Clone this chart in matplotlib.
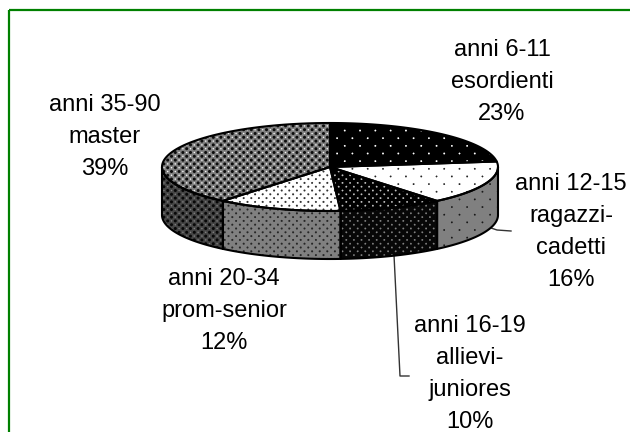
import numpy as np
import matplotlib
matplotlib.use('Agg')
import matplotlib.pyplot as plt
from matplotlib.patches import Polygon

plt.rcParams['font.family'] = ['Liberation Sans', 'DejaVu Sans']

# values, clockwise from 12 o'clock
labels = ['anni 6-11\nesordienti\n23%', 'anni 12-15\nragazzi-\ncadetti\n16%',
          'anni 16-19\nallievi-\njuniores\n10%', 'anni 20-34\nprom-senior\n12%',
          'anni 35-90\nmaster\n39%']
shares = [23, 16, 10, 12, 39]
label_x = [502, 571, 470, 224, 105]
label_y = [82, 232, 374, 311, 137]

W, H = 630, 432
cx, cy, a, b, depth = 330, 167, 168, 44, 48

fig = plt.figure(figsize=(6.3, 4.32), dpi=100)
ax = fig.add_axes([0, 0, 1, 1])
ax.set_xlim(0, W)
ax.set_ylim(H, 0)
ax.axis('off')


def dots(bg, fg, step, r, fg2=None, r2=0.5):
    # staggered dot pattern, one value per pixel
    yy, xx = np.mgrid[0:H, 0:W]
    img = np.full((H, W), bg, dtype=float)
    row = step / 2

    def paint(x0, y0, col, rad):
        ry = np.round((yy - y0) / row)
        rx = np.round((xx - x0 - (ry % 2) * step / 2) / step)
        d = np.hypot(xx - x0 - (ry % 2) * step / 2 - rx * step, yy - y0 - ry * row)
        # soft edge, like the resampled original
        w = np.clip((rad + 0.5 - d), 0, 1)
        img[:] = img * (1 - w) + col * w

    paint(0, 0, fg, r)
    if fg2 is not None:
        paint(step / 2, 0, fg2, r2)
    return img


top_tex = [dots(0.0, 1.0, 15.3, 0.9),
           dots(1.0, 0.15, 15.3, 0.9),
           dots(0.0, 0.75, 7.6, 0.9),
           dots(1.0, 0.2, 7.6, 1.0),
           dots(0.5, 0.05, 7.6, 1.5, 0.95, 0.7)]
side_tex = [dots(0.5, 0.1, 15.3, 0.9),
            dots(0.5, 0.1, 15.3, 0.9),
            dots(0.03, 0.5, 7.6, 0.9),
            dots(0.5, 0.15, 7.6, 1.0),
            dots(0.27, 0.03, 7.6, 1.5, 0.5, 0.7)]


def textured(verts, img):
    im = ax.imshow(img, cmap='gray', vmin=0, vmax=1, extent=(0, W, H, 0),
                   interpolation='nearest', aspect='auto', zorder=2)
    poly = Polygon(verts, closed=True, fc='none', ec='black', lw=1.5, zorder=3,
                   joinstyle='round')
    ax.add_patch(poly)
    im.set_clip_path(poly)


def rim(t):
    return cx + a * np.sin(t), cy - b * np.cos(t)


edges = np.radians(np.cumsum([0] + shares) * 3.6)

# side walls first, only the front half of the disc shows
for i in range(len(shares)):
    t0 = max(edges[i], np.pi / 2)
    t1 = min(edges[i + 1], 3 * np.pi / 2)
    if t1 <= t0:
        continue
    t = np.linspace(t0, t1, 80)
    x, y = rim(t)
    verts = np.r_[np.c_[x, y], np.c_[x, y + depth][::-1]]
    textured(verts, side_tex[i])

# top slices
for i in range(len(shares)):
    t = np.linspace(edges[i], edges[i + 1], 120)
    x, y = rim(t)
    verts = np.r_[[[cx, cy]], np.c_[x, y]]
    textured(verts, top_tex[i])

# leader lines
ax.plot([488, 497, 511], [227, 230, 231], color='#333333', lw=1, zorder=1)
ax.plot([394, 400, 409], [255, 376, 376], color='#333333', lw=1, zorder=1)

for txt, x, y in zip(labels, label_x, label_y):
    ax.text(x, y, txt, ha='center', va='center', fontsize=17, linespacing=1.6,
            color='black', zorder=4)

# green frame
ax.plot([9, 9], [H, 10], color='#008000', lw=1.6, zorder=5, solid_capstyle='butt')
ax.plot([9, W], [10, 10], color='#008000', lw=1.6, zorder=5, solid_capstyle='butt')

fig.savefig('out.png', dpi=100)
